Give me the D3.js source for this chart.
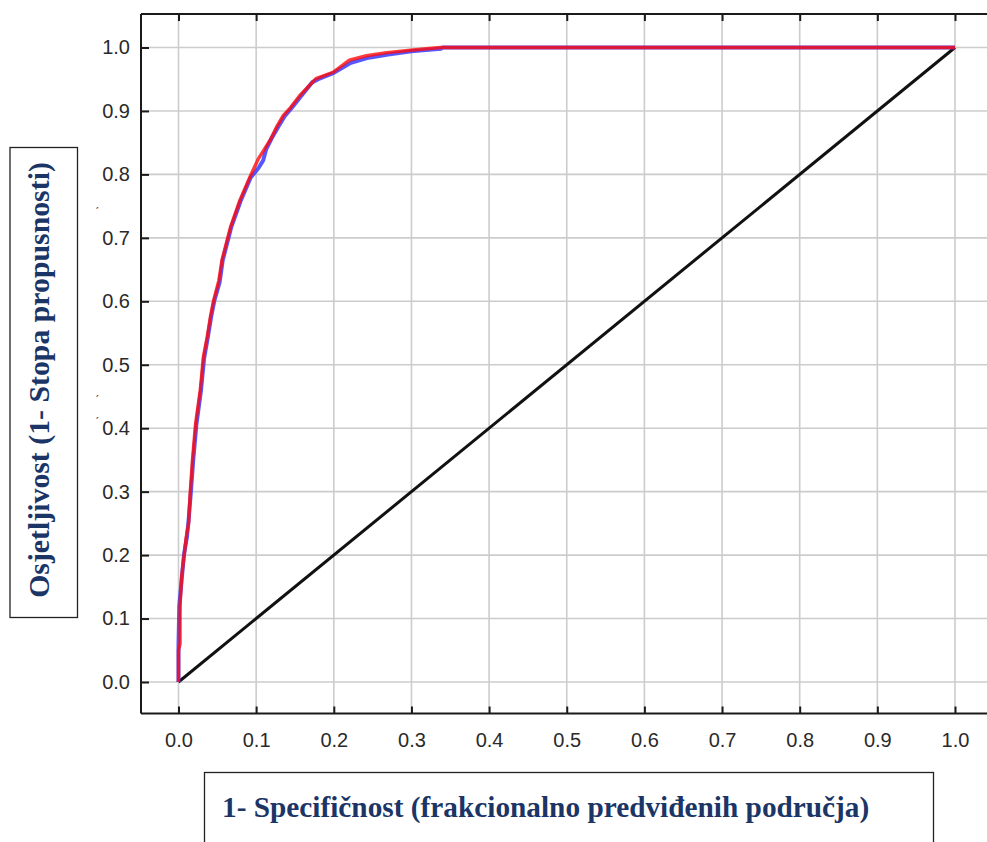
<!DOCTYPE html>
<html>
<head>
<meta charset="utf-8">
<script src="https://cdn.jsdelivr.net/npm/d3@7"></script>
<style>
  html, body { margin: 0; padding: 0; background: #fff; }
  svg { display: block; }
</style>
</head>
<body>
<svg id="chart" width="987" height="842"></svg>
<script>
// ---- data ----
const xTicks = [0, 0.1, 0.2, 0.3, 0.4, 0.5, 0.6, 0.7, 0.8, 0.9, 1.0];
const yTicks = [0, 0.1, 0.2, 0.3, 0.4, 0.5, 0.6, 0.7, 0.8, 0.9, 1.0];
const xTitle = "1- Specifičnost (frakcionalno predviđenih područja)";
const yTitle = "Osjetljivost (1- Stopa propusnosti)";

const redFpr = [0.000,0.000,0.002,0.002,0.004,0.007,0.010,0.013,0.015,0.018,0.022,0.028,0.032,0.037,0.041,0.045,0.052,0.056,0.067,0.079,0.092,0.103,0.118,0.126,0.135,0.144,0.156,0.177,0.199,0.220,0.242,0.268,0.302,0.337,1.000];
const redTpr = [0.000,0.050,0.060,0.120,0.166,0.197,0.229,0.250,0.297,0.350,0.407,0.460,0.512,0.544,0.575,0.600,0.633,0.665,0.717,0.759,0.796,0.825,0.854,0.874,0.893,0.905,0.924,0.951,0.961,0.980,0.987,0.992,0.996,1.000,1.000];

const blueFpr = [0.000,0.000,0.001,0.004,0.007,0.011,0.013,0.016,0.019,0.023,0.029,0.033,0.038,0.042,0.046,0.053,0.057,0.068,0.080,0.093,0.103,0.109,0.113,0.120,0.128,0.137,0.146,0.157,0.172,0.180,0.200,0.222,0.245,0.270,0.300,0.338,0.340,1.000];
const blueTpr = [0.000,0.060,0.120,0.160,0.200,0.230,0.255,0.300,0.350,0.405,0.460,0.510,0.545,0.575,0.600,0.630,0.665,0.717,0.758,0.795,0.810,0.822,0.840,0.857,0.874,0.892,0.905,0.922,0.945,0.950,0.960,0.976,0.984,0.989,0.994,0.998,1.000,1.000];

const diagX = [0, 1];
const diagY = [0, 1];

// ---- layout ----
const svg = d3.select("#chart");
const frame = { left: 141, top: 14, right: 990, bottom: 713.5 };
const x = d3.scaleLinear().domain([0, 1]).range([178.5, 955]);
const y = d3.scaleLinear().domain([0, 1]).range([682, 47.5]);

// grid
const grid = svg.append("g");
grid.selectAll("line.vg").data(xTicks).join("line")
  .attr("x1", d => x(d)).attr("x2", d => x(d))
  .attr("y1", frame.top).attr("y2", frame.bottom)
  .attr("stroke", "#cccccc").attr("stroke-width", 1.6);
grid.selectAll("line.hg").data(yTicks).join("line")
  .attr("y1", d => y(d)).attr("y2", d => y(d))
  .attr("x1", frame.left).attr("x2", frame.right)
  .attr("stroke", "#cccccc").attr("stroke-width", 1.6);

// diagonal
const line = d3.line().x(d => x(d[0])).y(d => y(d[1]));
svg.append("path").datum(d3.zip(diagX, diagY))
  .attr("d", line).attr("fill", "none")
  .attr("stroke", "#111").attr("stroke-width", 3);

// ROC curves
svg.append("path").datum(d3.zip(blueFpr, blueTpr))
  .attr("d", line).attr("fill", "none")
  .attr("stroke", "#3a3aff").attr("stroke-width", 4)
  .attr("stroke-linejoin", "round").attr("stroke-opacity", 0.85);
svg.append("path").datum(d3.zip(redFpr, redTpr))
  .attr("d", line).attr("fill", "none")
  .attr("stroke", "#ff0a0a").attr("stroke-width", 3.4)
  .attr("stroke-linejoin", "round").attr("stroke-opacity", 0.8);

// frame
const fr = svg.append("g").attr("stroke", "#1a1a1a").attr("stroke-width", 2);
fr.append("line").attr("x1", frame.left).attr("x2", frame.right).attr("y1", frame.top).attr("y2", frame.top);
fr.append("line").attr("x1", frame.left).attr("x2", frame.right).attr("y1", frame.bottom).attr("y2", frame.bottom);
fr.append("line").attr("x1", frame.left).attr("x2", frame.left).attr("y1", frame.top).attr("y2", frame.bottom);

// axes (inward ticks)
const axB = d3.axisBottom(x).tickValues(xTicks).tickSize(-7).tickPadding(19).tickFormat(d3.format(".1f"));
const axT = d3.axisTop(x).tickValues(xTicks).tickSize(-7).tickFormat("");
const axL = d3.axisLeft(y).tickValues(yTicks).tickSize(-8).tickPadding(11).tickFormat(d3.format(".1f"));

function styleAxis(g) {
  g.select(".domain").remove();
  g.selectAll(".tick line").attr("stroke", "#1a1a1a").attr("stroke-width", 2);
  g.selectAll(".tick text").attr("fill", "#2a2a2a").attr("font-family", "'Liberation Sans', Arial, sans-serif").attr("font-size", 20);
}
svg.append("g").attr("transform", `translate(0,${frame.bottom})`).call(axB).call(styleAxis);
svg.append("g").attr("transform", `translate(0,${frame.top})`).call(axT).call(styleAxis);
svg.append("g").attr("transform", `translate(${frame.left},0)`).call(axL).call(styleAxis);

// small stray marks
svg.selectAll("text.mark").data([200, 388, 410]).join("text")
  .attr("x", 95).attr("y", d => d + 6).text("ˏ")
  .attr("font-size", 12).attr("fill", "#444").attr("font-family", "'Liberation Sans', sans-serif");

// y title box
svg.append("rect").attr("x", 10).attr("y", 147.5).attr("width", 67.5).attr("height", 470)
  .attr("fill", "#fff").attr("stroke", "#222").attr("stroke-width", 1.3);
svg.append("text")
  .attr("transform", "translate(49,380) rotate(-90)")
  .attr("text-anchor", "middle")
  .attr("font-family", "'Liberation Serif', 'Times New Roman', serif")
  .attr("font-weight", "bold").attr("font-size", 29.8).attr("fill", "#1b3566")
  .text(yTitle);

// x title box
svg.append("rect").attr("x", 204.5).attr("y", 772.5).attr("width", 729).attr("height", 90)
  .attr("fill", "#fff").attr("stroke", "#222").attr("stroke-width", 1.3);
svg.append("text")
  .attr("x", 222).attr("y", 817)
  .attr("font-family", "'Liberation Serif', 'Times New Roman', serif")
  .attr("font-weight", "bold").attr("font-size", 29.3).attr("fill", "#1b3566")
  .text(xTitle);
</script>
</body>
</html>
